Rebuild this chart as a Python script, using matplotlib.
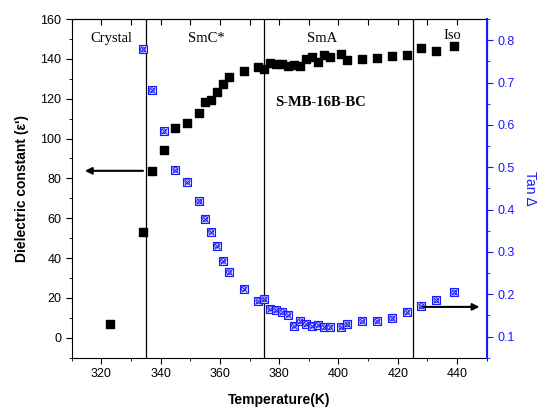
import matplotlib
matplotlib.use('Agg')
import matplotlib.pyplot as plt
from matplotlib.ticker import MultipleLocator

plt.rcParams['font.family'] = ['Liberation Sans', 'DejaVu Sans']

# data
temp_eps = [323, 334, 337, 341, 345, 349, 353, 355, 357, 359, 361, 363, 368, 373, 375, 377, 379, 381,
            383, 385, 387, 389, 391, 393, 395, 397, 401, 403, 408, 413, 418, 423, 428, 433, 439]
eps = [7, 53.3, 83.8, 94.4, 105.5, 107.7, 112.8, 118.5, 119.5, 123.5, 127.4, 131, 133.9, 136, 135, 137.8,
       137.6, 137.4, 136.5, 136.9, 136.4, 140, 140.8, 138.6, 141.9, 141.1, 142.4, 139.3, 140.1, 140.6,
       141.6, 142.1, 145.4, 143.9, 146.3]
temp_tan = [334, 337, 341, 345, 349, 353, 355, 357, 359, 361, 363, 368, 373, 375, 377, 379, 381, 383,
            385, 387, 389, 391, 393, 395, 397, 401, 403, 408, 413, 418, 423, 428, 433, 439]
tan_d = [0.778, 0.682, 0.585, 0.494, 0.466, 0.419, 0.378, 0.348, 0.315, 0.279, 0.252, 0.213, 0.184, 0.188,
         0.166, 0.163, 0.158, 0.152, 0.126, 0.136, 0.130, 0.126, 0.128, 0.122, 0.122, 0.123, 0.129, 0.137,
         0.137, 0.143, 0.158, 0.172, 0.186, 0.204]
transitions = [335, 375, 425]
phases = ['Crystal', 'SmC*', 'SmA', 'Iso']
phase_x = [323.5, 355.5, 394.5, 438.5]

blue = '#1a1aff'
fig = plt.figure(figsize=(5.37, 4.08), dpi=100)
ax = fig.add_axes([0.1335, 0.1233, 0.7728, 0.8301])
ax2 = ax.twinx()

ax.scatter(temp_eps, eps, marker='s', s=30, color='black', zorder=3)
ax2.scatter(temp_tan, tan_d, marker='s', s=32, facecolor='#dcdcff', edgecolor=blue, linewidth=0.8, zorder=3)
ax2.scatter(temp_tan, tan_d, marker='x', s=18, color=blue, linewidth=0.7, zorder=4)
ax2.scatter(temp_tan, tan_d, marker='o', s=12, facecolor='none', edgecolor=blue, linewidth=0.6, zorder=4)

for t in transitions:
    ax.axvline(t, color='black', linewidth=0.9)

ax.set_xlim(310, 450)
ax.set_ylim(-10, 160)
ax2.set_ylim(0.05, 0.85)

for name, x in zip(phases, phase_x):
    ax.text(x, 150 if name != 'Iso' else 151.5, name, family='Liberation Serif', fontsize=10.5,
            ha='center', va='center')
ax.text(394, 118, 'S-MB-16B-BC', family='Liberation Serif', fontsize=10.5, fontweight='bold',
        ha='center', va='center')

ax.annotate('', xy=(313.5, 83.8), xytext=(335, 83.8),
            arrowprops=dict(arrowstyle='-|>', color='black', lw=1.5, mutation_scale=10))
ax2.annotate('', xy=(448.5, 0.17), xytext=(427.5, 0.17),
             arrowprops=dict(arrowstyle='-|>', color='black', lw=1.5, mutation_scale=10))

ax.xaxis.set_major_locator(MultipleLocator(20))
ax.xaxis.set_minor_locator(MultipleLocator(10))
ax.yaxis.set_major_locator(MultipleLocator(20))
ax.yaxis.set_minor_locator(MultipleLocator(10))
ax2.yaxis.set_major_locator(MultipleLocator(0.1))
ax2.yaxis.set_minor_locator(MultipleLocator(0.05))

ax.tick_params(axis='both', which='major', labelsize=9, length=4, direction='out')
ax.tick_params(axis='both', which='minor', length=2.5, direction='out')

# top spine: inward ticks every 10 K, no labels
top = ax.secondary_xaxis('top')
top.xaxis.set_major_locator(MultipleLocator(10))
top.tick_params(direction='in', length=4, labeltop=False)

ax2.tick_params(axis='y', which='major', labelsize=9, length=4, color=blue, labelcolor=blue)
ax2.tick_params(axis='y', which='minor', length=2.5, color=blue)
ax2.spines['right'].set_color(blue)
ax2.spines['right'].set_linewidth(1.5)
for s in ['top', 'left', 'bottom']:
    ax2.spines[s].set_visible(False)

ax.set_xlabel('Temperature(K)', fontsize=10, fontweight='bold', labelpad=9)
ax.set_ylabel("Dielectric constant (\u03b5')", fontsize=10, fontweight='bold', labelpad=8)
ax2.set_ylabel('Tan \u0394', fontsize=10, color=blue, rotation=270, labelpad=16)

fig.savefig('out.png', dpi=100)
